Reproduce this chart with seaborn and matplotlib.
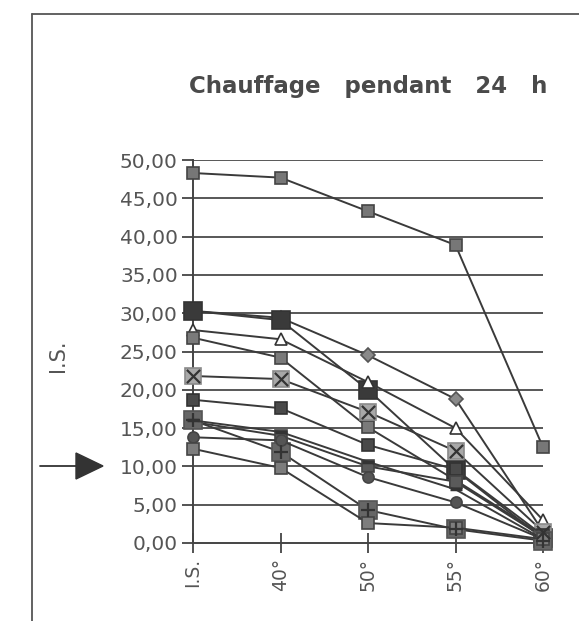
import matplotlib
matplotlib.use("Agg")
import matplotlib.pyplot as plt
import seaborn as sns
import numpy as np
import pandas as pd
from matplotlib.patches import Polygon
from matplotlib.lines import Line2D

sns.set_theme(style="white")
plt.rcParams['font.family'] = ['DejaVu Sans']

# ---- data ----
categories = ["I.S.", "40°", "50°", "55°", "60°"]
y_ticks = [0, 5, 10, 15, 20, 25, 30, 35, 40, 45, 50]
y_tick_labels = ["0,00", "5,00", "10,00", "15,00", "20,00", "25,00",
                 "30,00", "35,00", "40,00", "45,00", "50,00"]

s_top      = [48.3, 47.7, 43.3, 38.9, 12.5]
s_diamond  = [30.3, 29.4, 24.5, 18.8, 1.5]
s_bigdark  = [30.3, 29.1, 20.0, 9.5, 0.6]
s_triangle = [27.8, 26.6, 21.0, 15.0, 3.0]
s_sq_a     = [26.8, 24.2, 15.1, 8.2, 1.0]
s_xsq      = [21.8, 21.4, 17.1, 12.0, 1.5]
s_darksq   = [18.7, 17.6, 12.8, 9.6, 1.0]
s_plussq   = [16.0, 11.9, 4.3, 1.8, 0.3]
s_dash     = [16.0, 14.5, 10.6, 7.0, 0.5]
s_sq_b     = [15.8, 14.0, 10.0, 8.0, 0.8]
s_circle   = [13.8, 13.4, 8.6, 5.3, 0.5]
s_sq_c     = [12.3, 9.8, 2.6, 2.0, 0.5]

series = [
    # values, marker, size, face, edge
    (s_top,      's', 8.5, '#777777', '#444444'),
    (s_diamond,  'D', 7.5, '#8a8a8a', '#555555'),
    (s_bigdark,  's', 13.5,'#3a3a3a', '#333333'),
    (s_triangle, '^', 9,   'white',   '#333333'),
    (s_sq_a,     's', 8,   '#7a7a7a', '#444444'),
    (s_xsq,      's', 12,  '#a8a8a8', '#8a8a8a'),
    (s_darksq,   's', 8.5, '#4a4a4a', '#333333'),
    (s_sq_b,     's', 8,   '#5a5a5a', '#444444'),
    (s_plussq,   's', 12.5,'#666666', '#555555'),
    (s_dash,     '_', 9,   '#333333', '#333333'),
    (s_circle,   'o', 8,   '#555555', '#444444'),
    (s_sq_c,     's', 8.5, '#7d7d7d', '#444444'),
]

W, H = 579, 621
fig = plt.figure(figsize=(W / 100, H / 100), dpi=100)
ax = fig.add_axes([193 / W, 1 - 543 / H, (543 - 193) / W, (543 - 160) / H])

x = np.arange(len(categories))
line_c = '#3a3a3a'
for vals, mk, ms, fc, ec in series:
    sns.lineplot(x=x, y=vals, ax=ax, color=line_c, linewidth=1.4,
                 marker=mk, markersize=ms, markerfacecolor=fc,
                 markeredgecolor=ec, markeredgewidth=1.2 if mk != '_' else 2.5,
                 clip_on=False, zorder=3)

# overlay glyphs on square markers
sns.scatterplot(x=x, y=s_xsq, ax=ax, marker='x', s=90, color='#333333',
                linewidth=1.6, clip_on=False, zorder=5)
sns.scatterplot(x=x, y=s_plussq, ax=ax, marker='+', s=110, color='#333333',
                linewidth=1.6, clip_on=False, zorder=5)

ax.set_xlim(0, 4)
ax.set_ylim(0, 50)
ax.set_yticks(y_ticks)
ax.set_yticklabels(y_tick_labels)
ax.set_xticks(x)
ax.set_xticklabels(categories, rotation=90)

for yv in y_ticks[1:]:
    ax.axhline(yv, color='#4a4a4a', linewidth=1.3, zorder=1)

for s in ['top', 'right']:
    ax.spines[s].set_visible(False)
for s in ['left', 'bottom']:
    ax.spines[s].set_color('#444444')
    ax.spines[s].set_linewidth(1.4)

ax.tick_params(axis='y', direction='out', length=8, width=1.3, color='#444444',
               labelsize=14.5, labelcolor='#555555', pad=3, left=True)
ax.tick_params(axis='x', direction='inout', length=14, width=1.3, color='#444444',
               labelsize=13.5, labelcolor='#555555', pad=4, bottom=True)
ax.set_ylabel("I.S.", fontsize=15, color='#555555')
ax.yaxis.set_label_coords(-0.357, 0.49)
ax.set_xlabel("")
ax.set_facecolor('white')

# title
fig.text(368 / W, 1 - 87 / H, "Chauffage   pendant   24   h", ha='center', va='center',
         fontsize=16.5, fontweight='bold', color='#4a4a4a')

# frame lines (left and top)
fig.add_artist(Line2D([32 / W, 32 / W], [0, 1 - 14 / H], transform=fig.transFigure,
                      color='#555555', linewidth=1.3))
fig.add_artist(Line2D([32 / W, 1], [1 - 14 / H, 1 - 14 / H], transform=fig.transFigure,
                      color='#555555', linewidth=1.3))

# arrow pointing at 10,00
ay = 1 - 466 / H
fig.add_artist(Line2D([40 / W, 80 / W], [ay, ay], transform=fig.transFigure,
                      color='#333333', linewidth=1.3))
fig.add_artist(Polygon([[76 / W, ay + 13 / H], [103 / W, ay], [76 / W, ay - 13 / H]],
                       closed=True, transform=fig.transFigure,
                       facecolor='#333333', edgecolor='#333333'))

fig.savefig("out.png", dpi=100, facecolor='white')
